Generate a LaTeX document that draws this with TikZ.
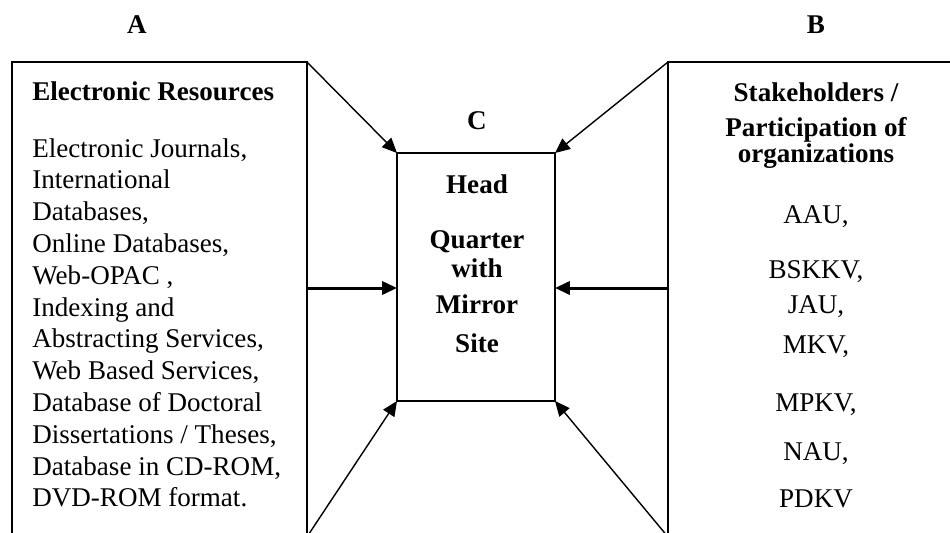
\documentclass[tikz,border=0pt]{standalone}
\usepackage{fontspec}
\setmainfont{Liberation Serif}
\usetikzlibrary{arrows.meta}

\begin{document}
\begin{tikzpicture}[x=0.02cm,y=-0.02cm,
        font=\fontsize{15.4}{18}\selectfont,
        box/.style={draw,line width=1.1pt,inner sep=0pt,outer sep=0pt},
        arr/.style={-{Triangle[length=8.5pt,width=7.5pt]},line width=0.8pt},
        harr/.style={-{Triangle[length=8.5pt,width=7.5pt]},line width=1.7pt},
        txt/.style={inner sep=0pt,anchor=base}]
        \useasboundingbox (0,0) rectangle (950,532);
        \clip (0,0) rectangle (950,532);

        % the three boxes
        \node[box,anchor=north west,minimum width=5.9cm,minimum height=9.5cm](eres) at (12,62) {};
        \node[box,anchor=north west,minimum width=5.92cm,minimum height=9.5cm](stake) at (668,62) {};
        \node[box,anchor=north west,minimum width=3.16cm,minimum height=4.96cm](hq) at (397,153) {};

        \node[txt](labA) at (137,33) {\bfseries A};
        \node[txt](labB) at (816,33) {\bfseries B};
        \node[txt](labC) at (477,129) {\bfseries C};

        % left box
        \node[txt,anchor=base west](erhead) at (32,100) {\bfseries Electronic Resources};
        \foreach \ln [count=\i] in {{Electronic Journals,},International,{Databases,},{Online Databases,},
            {Web-OPAC ,},Indexing and,{Abstracting Services,},{Web Based Services,},Database of Doctoral,
            {Dissertations / Theses,},{Database in CD-ROM,},DVD-ROM format.}
            \node[txt,anchor=base west](er\i) at (32,{157+31.8*(\i-1)}) {\ln};

        % right box
        \node[txt](sthead1) at (816,101) {\bfseries Stakeholders /};
        \node[txt](sthead2) at (816,136) {\bfseries Participation of};
        \node[txt](sthead3) at (816,162) {\bfseries organizations};
        \foreach \y/\org [count=\i] in {{223/AAU,},{278/BSKKV,},{313/JAU,},{353/MKV,},{411/MPKV,},{460/NAU,},507/PDKV}
            \node[txt](org\i) at (816,\y) {\org};

        % centre box
        \foreach \y/\w [count=\i] in {193/Head,248/Quarter,277/with,313/Mirror,352/Site}
            \node[txt](hq\i) at (477,\y) {\bfseries \w};

        % arrows
        \coordinate (mid) at (0,288);
        \draw[arr](eres.north east)--(hq.north west);
        \draw[arr](stake.north west)--(hq.north east);
        \draw[arr](eres.south east)--(hq.south west);
        \draw[arr](stake.south west)--(hq.south east);
        \draw[harr](eres.east |- mid)--(hq.west |- mid);
        \draw[harr](stake.west |- mid)--(hq.east |- mid);
\end{tikzpicture}
\end{document}
